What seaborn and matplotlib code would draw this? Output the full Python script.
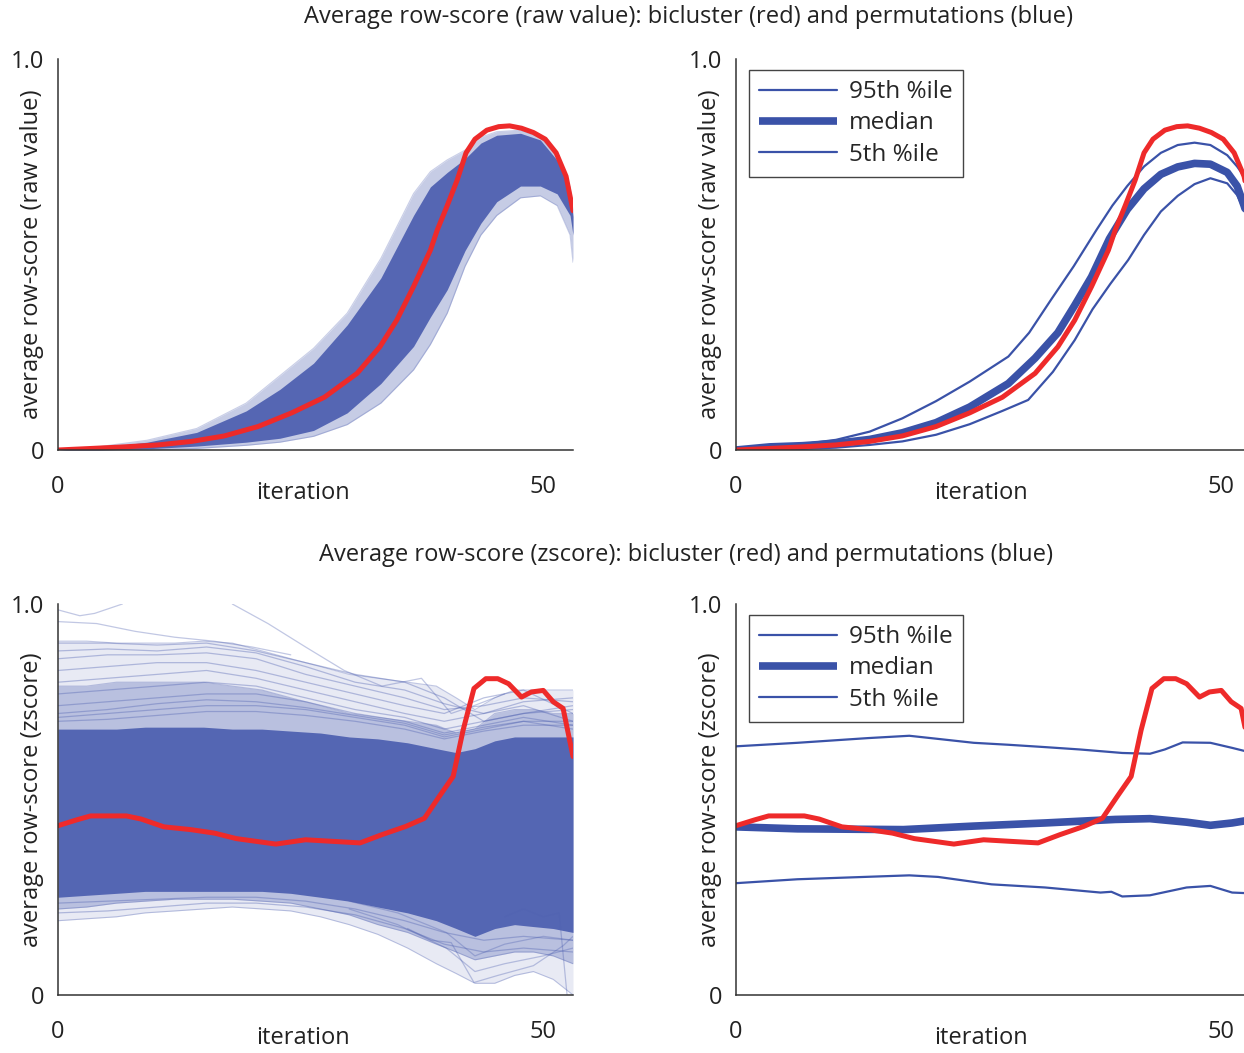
import numpy as np
import pandas as pd
import matplotlib
matplotlib.use("Agg")
import matplotlib.pyplot as plt
from matplotlib.lines import Line2D
import seaborn as sns

# ---------------- data ----------------
# x axis: iterations 1..53 (left edge labelled "0")
# --- raw value panels ---
raw_red_x = [1, 4.4, 7.7, 11.1, 14.5, 17.8, 21.2, 24.6, 27.9, 31.2, 33.5, 35.2, 36.9, 38.6, 39.3,
             40.3, 41.3, 42.2, 43.1, 44.3, 45.5, 46.6, 47.8, 49.0, 50.2, 51.3, 52.3, 53]
raw_red_y = [0.0, 0.004, 0.008, 0.013, 0.022, 0.036, 0.06, 0.095, 0.135, 0.196, 0.264, 0.332, 0.418,
             0.511, 0.563, 0.625, 0.69, 0.76, 0.795, 0.818, 0.827, 0.829, 0.823, 0.812, 0.795, 0.76,
             0.70, 0.612]

raw_p95_x = [1, 4.4, 7.7, 11.1, 14.5, 17.8, 21.2, 24.6, 28.5, 30.6, 32.8, 35.1, 37.4, 39.0, 40.5,
             42.2, 43.9, 45.6, 47.3, 48.9, 50.6, 51.6, 52.3, 53]
raw_p95 = [0.0, 0.01, 0.015, 0.026, 0.047, 0.081, 0.125, 0.175, 0.239, 0.30, 0.384, 0.47, 0.563,
           0.625, 0.675, 0.725, 0.76, 0.78, 0.786, 0.78, 0.754, 0.725, 0.70, 0.65]
raw_med_x = [1, 4.4, 7.7, 11.1, 14.5, 17.8, 21.2, 24.6, 28.5, 31.2, 33.5, 35.2, 36.9, 38.7, 40.5,
             42.2, 43.9, 45.6, 47.3, 48.9, 50.6, 51.6, 52.3, 53]
raw_med = [0.0, 0.008, 0.011, 0.017, 0.027, 0.044, 0.07, 0.11, 0.17, 0.235, 0.30, 0.37, 0.443, 0.54,
           0.615, 0.668, 0.705, 0.724, 0.733, 0.731, 0.71, 0.675, 0.625, 0.57]
raw_p05_x = [1, 7.7, 11.1, 14.5, 17.8, 21.2, 24.6, 27.9, 30.5, 33.0, 35.2, 37.0, 38.8, 40.6, 42.2,
             43.9, 45.6, 47.3, 48.9, 50.6, 51.6, 52.3, 53]
raw_p05 = [0.0, 0.003, 0.006, 0.013, 0.022, 0.039, 0.066, 0.10, 0.128, 0.20, 0.281, 0.36, 0.425,
           0.486, 0.55, 0.61, 0.65, 0.68, 0.695, 0.682, 0.652, 0.614, 0.57]

raw_env_x = [1, 5, 10, 15, 20, 23.4, 26.8, 30.2, 33.6, 36.9, 38.6, 40.3, 42.1, 43.7, 45.3, 47.7,
             49.7, 51.4, 52.7, 53]
raw_perm_max = [0.0, 0.008, 0.025, 0.055, 0.12, 0.19, 0.26, 0.35, 0.49, 0.656, 0.712, 0.742, 0.767,
                0.80, 0.814, 0.818, 0.80, 0.75, 0.673, 0.614]
raw_dense_hi = [0.0, 0.006, 0.02, 0.045, 0.10, 0.155, 0.222, 0.32, 0.44, 0.60, 0.673, 0.71, 0.745,
                0.785, 0.805, 0.81, 0.793, 0.741, 0.665, 0.597]
raw_dense_lo = [0.0, 0.0, 0.003, 0.01, 0.02, 0.03, 0.05, 0.095, 0.17, 0.265, 0.34, 0.41, 0.51, 0.58,
                0.635, 0.675, 0.675, 0.655, 0.60, 0.55]
raw_perm_min = [0.0, 0.0, 0.0, 0.004, 0.012, 0.02, 0.035, 0.065, 0.12, 0.205, 0.27, 0.35, 0.47,
                0.55, 0.60, 0.645, 0.65, 0.625, 0.55, 0.48]

# --- z-score panels ---
z_red_x = [1, 2.9, 4.3, 7.9, 9.4, 11.7, 14.4, 16.8, 19.0, 23.0, 26.0, 28.7, 31.5, 33.7, 36.1, 38.0,
           39.5, 40.9, 41.9, 43.0, 44.2, 45.4, 46.5, 47.8, 48.8, 50.0, 51.0, 52.0, 53]
z_red_y = [0.433, 0.448, 0.458, 0.458, 0.45, 0.43, 0.423, 0.414, 0.40, 0.386, 0.397, 0.393, 0.389,
           0.41, 0.431, 0.452, 0.508, 0.559, 0.677, 0.784, 0.809, 0.809, 0.796, 0.762, 0.775, 0.779,
           0.75, 0.733, 0.61]

z_p95_x = [1, 7.2, 14.3, 18.5, 21.4, 25.0, 28.5, 32.2, 35.7, 40.0, 42.8, 44.3, 46.1, 48.9, 51.1, 53]
z_p95 = [0.636, 0.645, 0.657, 0.663, 0.655, 0.645, 0.640, 0.634, 0.628, 0.619, 0.617, 0.628, 0.646,
         0.645, 0.632, 0.62]
z_med_x = [1, 7.2, 17.9, 25.0, 32.2, 39.3, 42.8, 46.5, 48.9, 51.1, 53]
z_med = [0.43, 0.425, 0.423, 0.432, 0.44, 0.449, 0.451, 0.442, 0.434, 0.44, 0.448]
z_p05_x = [1, 7.2, 18.5, 21.4, 26.8, 32.2, 37.8, 38.9, 40.0, 42.8, 46.5, 48.9, 51.1, 53]
z_p05 = [0.286, 0.296, 0.306, 0.302, 0.283, 0.275, 0.262, 0.264, 0.252, 0.255, 0.275, 0.279, 0.262,
         0.26]

z_env_x = [1, 3.9, 6.9, 9.8, 12.8, 15.7, 18.6, 21.6, 24.5, 27.5, 30.4, 33.3, 36.3, 39.2, 41.2,
           43.1, 45.1, 47.1, 49.0, 51.0, 53]
z_perm_max = [0.905, 0.905, 0.90, 0.90, 0.90, 0.905, 0.90, 0.88, 0.86, 0.84, 0.82, 0.81, 0.80, 0.79,
              0.76, 0.73, 0.76, 0.78, 0.78, 0.78, 0.78]
z_mid_hi = [0.79, 0.79, 0.80, 0.80, 0.80, 0.80, 0.79, 0.78, 0.76, 0.74, 0.72, 0.71, 0.70, 0.69,
            0.67, 0.68, 0.72, 0.73, 0.73, 0.72, 0.72]
z_dense_hi = [0.68, 0.68, 0.68, 0.685, 0.685, 0.685, 0.68, 0.68, 0.675, 0.67, 0.66, 0.655, 0.645,
              0.63, 0.62, 0.63, 0.65, 0.66, 0.66, 0.66, 0.66]
z_dense_lo = [0.25, 0.255, 0.26, 0.265, 0.265, 0.265, 0.265, 0.265, 0.26, 0.25, 0.24, 0.225, 0.21,
              0.19, 0.17, 0.15, 0.17, 0.18, 0.175, 0.17, 0.16]
z_mid_lo = [0.22, 0.225, 0.235, 0.24, 0.245, 0.245, 0.245, 0.24, 0.235, 0.22, 0.205, 0.18, 0.16,
            0.13, 0.11, 0.09, 0.10, 0.11, 0.11, 0.10, 0.08]
z_perm_min = [0.19, 0.195, 0.20, 0.21, 0.215, 0.22, 0.225, 0.22, 0.215, 0.20, 0.18, 0.155, 0.12,
              0.08, 0.055, 0.03, 0.03, 0.05, 0.06, 0.04, 0.0]

# individual permutation traces visible outside the dense cloud (z-score, left panel)
strand_x = [1, 6, 11, 16, 21, 26, 31, 36, 40, 44, 48, 53]
strands_hi = [
    [0.90, 0.90, 0.895, 0.90, 0.88, 0.85, 0.82, 0.80, 0.76, 0.70, 0.72, 0.74],
    [0.88, 0.885, 0.88, 0.89, 0.875, 0.84, 0.80, 0.78, 0.745, 0.72, 0.75, 0.76],
    [0.86, 0.87, 0.87, 0.875, 0.86, 0.82, 0.79, 0.76, 0.73, 0.74, 0.76, 0.75],
    [0.83, 0.84, 0.85, 0.85, 0.83, 0.80, 0.77, 0.74, 0.72, 0.76, 0.78, 0.72],
    [0.80, 0.81, 0.82, 0.83, 0.81, 0.78, 0.75, 0.72, 0.70, 0.72, 0.74, 0.70],
    [0.77, 0.78, 0.79, 0.80, 0.79, 0.76, 0.73, 0.71, 0.68, 0.70, 0.72, 0.73],
    [0.74, 0.75, 0.76, 0.77, 0.77, 0.75, 0.72, 0.70, 0.67, 0.69, 0.71, 0.69],
    [0.72, 0.73, 0.745, 0.755, 0.75, 0.735, 0.715, 0.695, 0.665, 0.685, 0.70, 0.70],
    [0.71, 0.72, 0.73, 0.74, 0.74, 0.73, 0.71, 0.69, 0.66, 0.68, 0.70, 0.68],
    [0.70, 0.705, 0.715, 0.725, 0.725, 0.715, 0.70, 0.68, 0.655, 0.675, 0.69, 0.69],
]
strands_lo = [
    [0.21, 0.215, 0.225, 0.235, 0.235, 0.225, 0.205, 0.17, 0.13, 0.11, 0.12, 0.11],
    [0.235, 0.24, 0.245, 0.25, 0.25, 0.24, 0.22, 0.19, 0.16, 0.14, 0.15, 0.14],
]
stray_x = [
    [1, 3.2, 4.7, 7.5],
    [1, 4.9, 8.8, 12.8, 16.7, 20.6, 24.5],
    [18.6, 22.2, 26.0, 29.9, 33.7, 37.7, 40.7, 43.0, 46.1],
    [36.3, 38.7, 40.7, 43.0, 45.4, 49.0, 52.0, 53],
    [30.4, 35.3, 40.2, 43.1, 46.1, 50.0, 53],
    [30.4, 35.3, 40.2, 43.1, 46.1, 50.0, 53],
    [46.1, 48.0, 50.0, 51.6, 52.4],
]
stray_y = [
    [0.985, 0.97, 0.976, 1.0],
    [0.955, 0.95, 0.93, 0.915, 0.905, 0.89, 0.87],
    [1.0, 0.95, 0.89, 0.83, 0.79, 0.81, 0.72, 0.74, 0.77],
    [0.17, 0.14, 0.134, 0.032, 0.05, 0.075, 0.126, 0.15],
    [0.22, 0.18, 0.12, 0.06, 0.08, 0.10, 0.12],
    [0.24, 0.21, 0.16, 0.10, 0.13, 0.15, 0.14],
    [0.2, 0.22, 0.2, 0.21, 0.0],
]

titles = ["Average row-score (raw value): bicluster (red) and permutations (blue)",
          "Average row-score (zscore): bicluster (red) and permutations (blue)"]
ylabels = ["average row-score (raw value)", "average row-score (zscore)"]
legend_labels = ["95th %ile", "median", "5th %ile"]
x_ticks = [1, 10, 20, 30, 40, 50]
x_ticklabels = ["0", "", "", "", "", "50"]

# ---------------- style ----------------
sns.set_theme(style="white")
plt.rcParams["font.family"] = ["Open Sans", "DejaVu Sans"]
plt.rcParams["lines.solid_joinstyle"] = "round"
plt.rcParams["lines.solid_capstyle"] = "round"

RED = "#ee2a2a"
PERM = "#4f61b1"
PCT = "#3a52a8"
AX = "#333333"
TXT = "#222222"

W, H = 1244, 1053
fig = plt.figure(figsize=(W / 100, H / 100), dpi=100)

def px_axes(left, top, right, bottom):
    return fig.add_axes([left / W, 1 - bottom / H, (right - left) / W, (bottom - top) / H])

ax_tl = px_axes(58, 59, 573, 450)
ax_tr = px_axes(736, 59, 1251, 450)
ax_bl = px_axes(58, 604, 573, 995)
ax_br = px_axes(736, 604, 1251, 995)

FS = 17

def style_axes(ax, ylabel, yticks):
    ax.set_xlim(1, 53)
    ax.set_ylim(0, 1.0)
    for s in ["top", "right"]:
        ax.spines[s].set_visible(False)
    for s in ["left", "bottom"]:
        ax.spines[s].set_color(AX)
        ax.spines[s].set_linewidth(1.1)
    ax.set_xticks(x_ticks)
    ax.set_xticklabels(x_ticklabels)
    ax.set_yticks(yticks)
    ax.set_yticklabels(["0"] + [""] * (len(yticks) - 2) + ["1.0"])
    ax.tick_params(axis="both", direction="in", length=6, width=1, colors=AX,
                   labelsize=FS, labelcolor=TXT)
    ax.tick_params(axis="x", pad=18)
    ax.tick_params(axis="y", pad=10)
    ax.set_xlabel("iteration", fontsize=FS, color=TXT, va="center")
    ax.set_ylabel(ylabel, fontsize=FS, color=TXT)
    ax.xaxis.set_label_coords(0.476, -0.11)
    ax.yaxis.set_label_coords(-0.027, 0.5)
    ax.set_facecolor("white")

raw_ticks = [0, 0.2, 0.4, 0.6, 0.8, 1.0]
z_ticks = [0, 2 / 9, 4 / 9, 6 / 9, 8 / 9, 1.0]

# ---- top-left: permutation cloud (raw) ----
ax = ax_tl
ax.fill_between(raw_env_x, raw_perm_min, raw_perm_max, color=PERM, alpha=0.32, lw=0)
ax.fill_between(raw_env_x, raw_dense_lo, raw_dense_hi, color=PERM, alpha=0.95, lw=0)
for yy in (raw_perm_max, raw_perm_min):
    sns.lineplot(x=raw_env_x, y=yy, ax=ax, color=PERM, alpha=0.3, linewidth=0.8)
sns.lineplot(x=raw_red_x, y=raw_red_y, ax=ax, color=RED, linewidth=3.6)
style_axes(ax, ylabels[0], raw_ticks)

# ---- top-right: percentiles (raw) ----
ax = ax_tr
sns.lineplot(x=raw_p95_x, y=raw_p95, ax=ax, color=PCT, linewidth=1.6)
sns.lineplot(x=raw_p05_x, y=raw_p05, ax=ax, color=PCT, linewidth=1.6)
sns.lineplot(x=raw_med_x, y=raw_med, ax=ax, color=PCT, linewidth=5.5)
sns.lineplot(x=raw_red_x, y=raw_red_y, ax=ax, color=RED, linewidth=3.6)
style_axes(ax, ylabels[0], raw_ticks)

# ---- bottom-left: permutation cloud (zscore) ----
ax = ax_bl
ax.fill_between(z_env_x, z_perm_min, z_perm_max, color=PERM, alpha=0.13, lw=0)
ax.fill_between(z_env_x, z_mid_lo, z_mid_hi, color=PERM, alpha=0.3, lw=0)
ax.fill_between(z_env_x, z_dense_lo, z_dense_hi, color=PERM, alpha=0.95, lw=0)
for yy in (z_perm_max, z_perm_min, z_mid_lo, z_mid_hi):
    sns.lineplot(x=z_env_x, y=yy, ax=ax, color=PERM, alpha=0.35, linewidth=0.8)
for yy in strands_hi + strands_lo:
    sns.lineplot(x=strand_x, y=yy, ax=ax, color=PERM, alpha=0.38, linewidth=0.9)
for sx, sy in zip(stray_x, stray_y):
    sns.lineplot(x=sx, y=sy, ax=ax, color=PERM, alpha=0.35, linewidth=0.9)
sns.lineplot(x=z_red_x, y=z_red_y, ax=ax, color=RED, linewidth=3.6)
style_axes(ax, ylabels[1], z_ticks)

# ---- bottom-right: percentiles (zscore) ----
ax = ax_br
sns.lineplot(x=z_p95_x, y=z_p95, ax=ax, color=PCT, linewidth=1.6)
sns.lineplot(x=z_p05_x, y=z_p05, ax=ax, color=PCT, linewidth=1.6)
sns.lineplot(x=z_med_x, y=z_med, ax=ax, color=PCT, linewidth=5.5)
sns.lineplot(x=z_red_x, y=z_red_y, ax=ax, color=RED, linewidth=3.6)
style_axes(ax, ylabels[1], z_ticks)

# legends on right panels
for ax in (ax_tr, ax_br):
    handles = [Line2D([], [], color=PCT, lw=1.6),
               Line2D([], [], color=PCT, lw=5.5, solid_capstyle="butt"),
               Line2D([], [], color=PCT, lw=1.6)]
    leg = ax.legend(handles, legend_labels, loc="upper left", bbox_to_anchor=(0.025, 0.972),
                    borderaxespad=0, fontsize=FS + 0.5, frameon=True, fancybox=False, shadow=False,
                    handlelength=3.2, handletextpad=0.5, labelspacing=0.3, borderpad=0.42)
    leg.get_frame().set_edgecolor("#444444")
    leg.get_frame().set_linewidth(1.0)
    leg.get_frame().set_alpha(1.0)

fig.text(688 / W, 1 - 17 / H, titles[0], ha="center", va="center", fontsize=FS, color=TXT)
fig.text(686 / W, 1 - 555 / H, titles[1], ha="center", va="center", fontsize=FS, color=TXT)

fig.savefig("out.png", dpi=100, facecolor="white")
